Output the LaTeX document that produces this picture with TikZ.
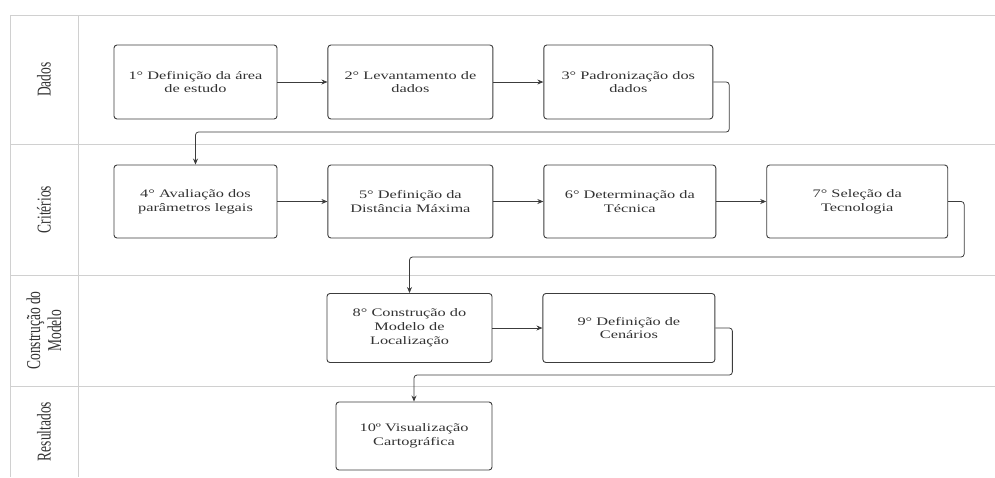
\documentclass[tikz,border=0pt]{standalone}
\usepackage{fontspec}
\setmainfont{Liberation Serif}
\newfontfamily\caixafonte{Liberation Serif}[FakeStretch=1.42]
\usetikzlibrary{arrows.meta, positioning, calc}
\definecolor{Borda}{RGB}{60,60,60}
\definecolor{Raia}{RGB}{208,208,208}
\definecolor{Texto}{RGB}{50,50,50}

\begin{document}
\begin{tikzpicture}[x=1pt, y=-1pt,
	etapa/.style={rectangle, draw=Borda, line width=0.9pt, rounded corners=3pt, align=center,
		font=\caixafonte\fontsize{11.5}{13.8}\selectfont, text=Texto, inner sep=0pt},
	seta/.style={-{Stealth[length=6pt, width=5pt]}, line width=0.8pt, Borda, rounded corners=3pt},
	raia/.style={draw=Raia, line width=0.8pt},
	rotulo/.style={xscale=1.45, rotate=90, align=center, font=\fontsize{13.5}{14.5}\selectfont, text=Texto}]
	\path[use as bounding box] (0,0) rectangle (995,477);
	\draw[raia] (10,477) -- (10,15) -- (995,15);
	\draw[raia] (78,15) -- (78,477);
	\foreach \y in {144,275,386} \draw[raia] (10,\y) -- (995,\y);
	\node[rotulo] (dados) at (44,79.5) {Dados};
	\node[rotulo] (criterios) at (44,209.5) {Critérios};
	\node[rotulo] (construcao) at (44,330.5) {Construção do\\Modelo};
	\node[rotulo] (resultados) at (44,431.5) {Resultados};
	\node[etapa, minimum width=163pt, minimum height=74pt] (e1) at (195.5,82) {1° Definição da área\\de estudo};
	\node[etapa, minimum width=165pt, minimum height=74pt, right=50pt of e1] (e2) {2° Levantamento de\\dados};
	\node[etapa, minimum width=169pt, minimum height=74pt, right=50pt of e2] (e3) {3° Padronização dos\\dados};
	\node[etapa, minimum width=163pt, minimum height=73pt] (e4) at (195.5,201.5) {4° Avaliação dos\\parâmetros legais};
	\node[etapa, minimum width=165pt, minimum height=73pt, right=50pt of e4] (e5) {5° Definição da\\Distância Máxima};
	\node[etapa, minimum width=172pt, minimum height=73pt, right=50pt of e5] (e6) {6° Determinação da\\Técnica};
	\node[etapa, minimum width=181pt, minimum height=73pt, right=50pt of e6] (e7) {7° Seleção da\\Tecnologia};
	\node[etapa, minimum width=165pt, minimum height=69pt] (e8) at (409.5,328) {8° Construção do\\Modelo de\\Localização};
	\node[etapa, minimum width=172pt, minimum height=69pt, right=50pt of e8] (e9) {9° Definição de\\Cenários};
	\node[etapa, minimum width=156pt, minimum height=68pt] (e10) at (414,436) {10º Visualização\\Cartográfica};
	\coordinate (v1) at (0,132);
	\coordinate (v2) at (0,257);
	\coordinate (v3) at (0,375);
	\draw[seta] (e1) -- (e2);
	\draw[seta] (e2) -- (e3);
	\draw[seta] (e3.east) -- ++(16,0) |- (v1 -| e4.north) -- (e4.north);
	\draw[seta] (e4) -- (e5);
	\draw[seta] (e5) -- (e6);
	\draw[seta] (e6) -- (e7);
	\draw[seta] (e7.east) -- ++(16,0) |- (v2 -| e8.north) -- (e8.north);
	\draw[seta] (e8) -- (e9);
	\draw[seta] (e9.east) -- ++(17,0) |- (v3 -| e10.north) -- (e10.north);
\end{tikzpicture}
\end{document}
